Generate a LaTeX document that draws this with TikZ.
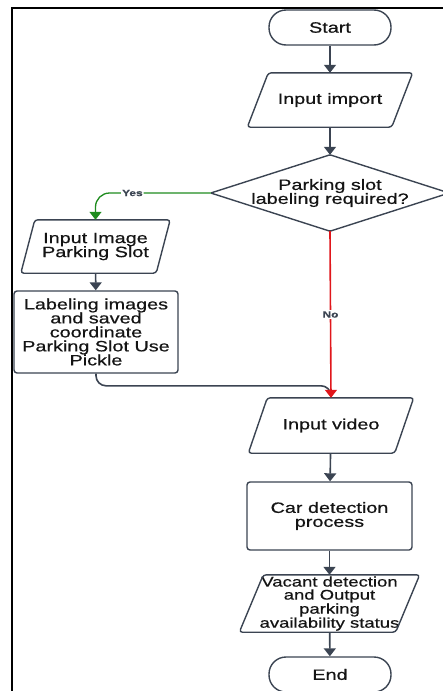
\documentclass[tikz,border=0pt]{standalone}
\usepackage{fontspec}
\setmainfont{Liberation Sans}[FakeStretch=1.32,FakeBold=0.6]
\usetikzlibrary{arrows.meta,calc}
\definecolor{edge}{HTML}{3B4452}
\definecolor{yesgreen}{HTML}{1F8C1F}
\definecolor{nored}{HTML}{E0161B}
\newcommand\paraoutline[2]{\draw[shapeline] ([xshift=#2]#1.north west) -- ([xshift=#2]#1.north east) -- ([xshift=-#2]#1.south east) -- ([xshift=-#2]#1.south west) -- cycle;}
\begin{document}
\begin{tikzpicture}[x=1pt,y=-1pt,
  txt/.style={font=\fontsize{15}{14}\selectfont, align=center, text=black!92, inner sep=0pt},
  smalltxt/.style={font=\fontsize{14}{13}\selectfont, align=center, text=black!92, inner sep=0pt},
  shapeline/.style={draw=edge, line width=1.4pt, rounded corners=3pt},
  procbox/.style={txt, draw=edge, line width=1.4pt, rounded corners=3pt},
  termbox/.style={txt, draw=edge, line width=1.4pt, rounded corners=17pt},
  flow/.style={draw=edge, line width=1.6pt, -{Triangle[length=8pt,width=12pt]}},
  lbl/.style={fill=white, inner sep=1pt, font=\bfseries\fontsize{9}{9}\selectfont, text=edge}
]
\useasboundingbox (0,0) rectangle (443,691);
\clip (0,0) rectangle (443,691);
\draw[line width=2pt, black] (12,8) rectangle (480,720);

\node[termbox, minimum width=122pt, minimum height=35pt] (start) at (330,27.5) {Start};
\node[txt, minimum width=144pt, minimum height=54pt] (imp) at (330,100) {Input import};
\paraoutline{imp}{10.5pt}
\node[txt, minimum width=238pt, minimum height=76pt] (dec) at (330,193) {Parking slot\\labeling required?};
\draw[shapeline, rounded corners=1pt] (dec.north) -- (dec.east) -- (dec.south) -- (dec.west) -- cycle;
\node[txt, minimum width=135pt, minimum height=53pt] (img) at (95.5,246.5) {Input Image\\Parking Slot};
\paraoutline{img}{7pt}
\node[procbox, minimum width=164pt, minimum height=82pt] (lab) at (96,332) {Labeling images\\and saved\\coordinate\\Parking Slot Use\\Pickle};
\node[txt, minimum width=146pt, minimum height=55pt] (vid) at (331,425.5) {Input video};
\paraoutline{vid}{9.5pt}
\node[procbox, minimum width=165pt, minimum height=68pt] (car) at (329.5,516) {Car detection\\process};
\node[smalltxt, minimum width=156pt, minimum height=57pt] (vac) at (329.5,603.5) {Vacant detection\\and Output\\parking\\availability status};
\paraoutline{vac}{12pt}
\node[termbox, minimum width=122pt, minimum height=35pt] (end) at (330,674.5) {End};

\draw[flow] (start) -- (imp);
\draw[flow] (imp) -- (dec);
\draw[flow, draw=yesgreen, line width=1.3pt, rounded corners=14pt] (dec.west) -| node[lbl, pos=0.34] {Yes} (img.north);
\draw[flow] (img) -- (lab);
\coordinate (join) at ($(vid.north)+(0,-12)$);
\draw[draw=edge, line width=1.6pt, rounded corners=10pt] (lab.south) |- (join) -- (vid.north);
\draw[flow, draw=nored] (dec.south) -- node[lbl, pos=0.5] {No} (vid.north);
\draw[flow] (vid) -- (car);
\draw[flow] (car) -- (vac);
\draw[flow] (vac) -- (end);
\end{tikzpicture}
\end{document}
